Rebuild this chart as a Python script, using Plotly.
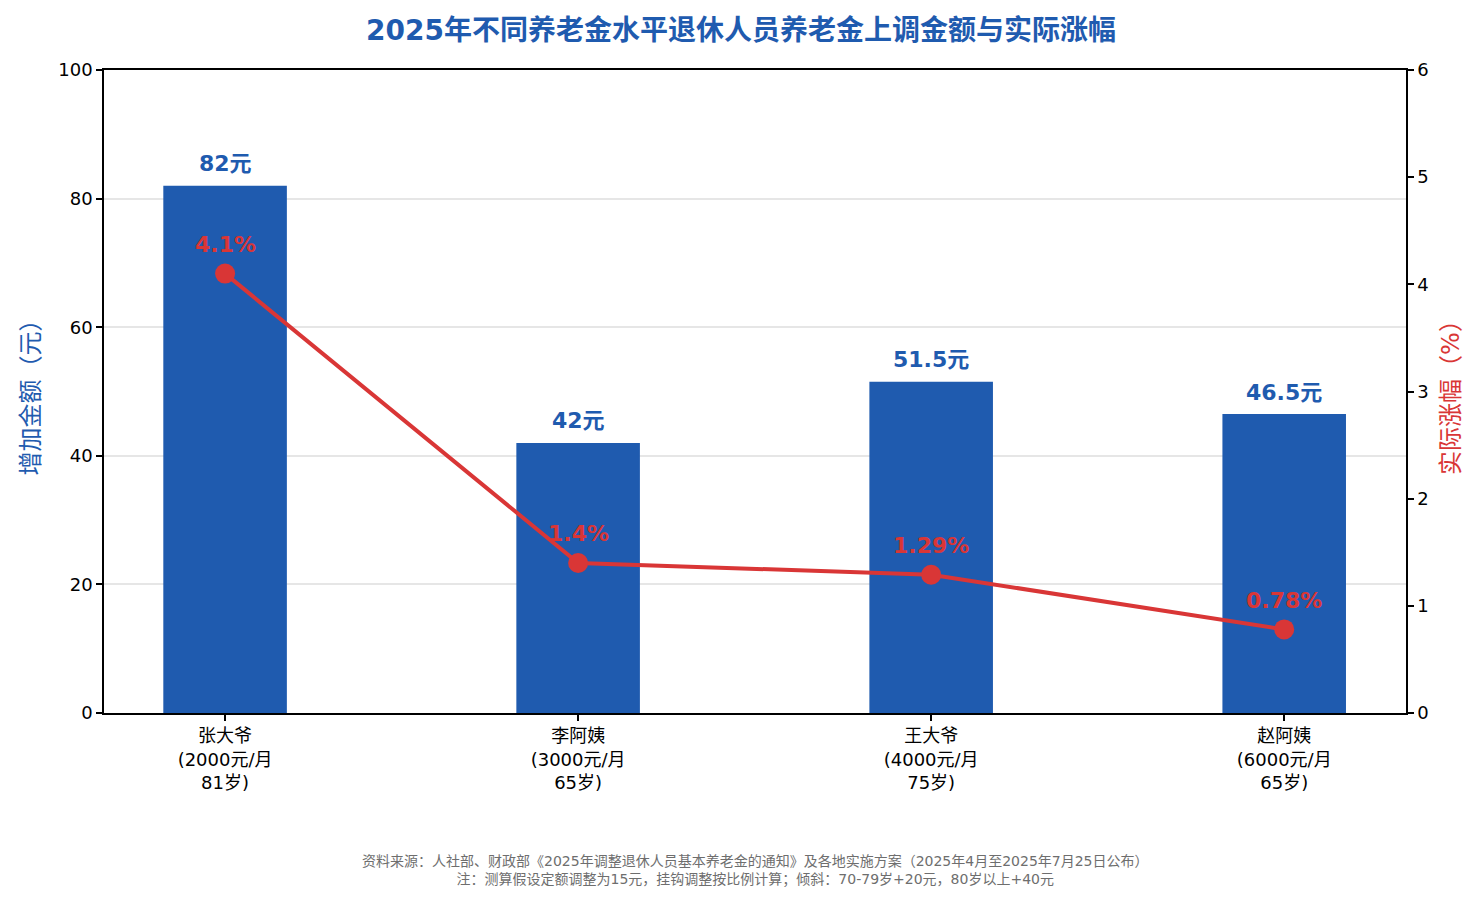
"""
2025 pension adjustment: increase amount vs. actual growth rate for four typical retirees.
"""

import plotly.graph_objects as go

# data
names = ["张大爷", "李阿姨", "王大爷", "赵阿姨"]
pensions = [2000, 3000, 4000, 6000]   # 元/月
ages = [81, 65, 75, 65]
increase = [82, 42, 51.5, 46.5]      # 增加金额（元）
growth = [4.1, 1.4, 1.29, 0.78]      # 实际涨幅（%）

categories = [f"{n}<br>({p}元/月<br>{a}岁)" for n, p, a in zip(names, pensions, ages)]
xs = list(range(len(categories)))

BLUE = "#1f5baf"
RED = "#d93636"
FONT = "DejaVu Sans, Noto Sans CJK SC, sans-serif"

fig = go.Figure()

# bars: increase amount
fig.add_trace(go.Bar(
    x=xs,
    y=increase,
    width=0.35,
    marker=dict(color=BLUE, line=dict(width=0)),
    name="增加金额",
    yaxis="y",
))

# line: growth rate
fig.add_trace(go.Scatter(
    x=xs,
    y=growth,
    mode="lines+markers",
    line=dict(color=RED, width=4),
    marker=dict(color=RED, size=20),
    name="实际涨幅",
    yaxis="y2",
))

# value labels
for i in xs:
    fig.add_annotation(
        x=i, y=increase[i], xref="x", yref="y",
        text=f"{increase[i]:g}元", showarrow=False, yshift=22,
        font=dict(family=FONT, size=22, color=BLUE, weight="bold"),
    )
    fig.add_annotation(
        x=i, y=growth[i], xref="x", yref="y2",
        text=f"{growth[i]:g}%", showarrow=False, yshift=29,
        font=dict(family=FONT, size=22, color=RED, weight="bold"),
    )

# source note
fig.add_annotation(
    x=0.5, y=-0.245, xref="paper", yref="paper", xanchor="center", yanchor="middle",
    text="资料来源：人社部、财政部《2025年调整退休人员基本养老金的通知》及各地实施方案（2025年4月至2025年7月25日公布）"
         "<br>注：测算假设定额调整为15元，挂钩调整按比例计算；倾斜：70-79岁+20元，80岁以上+40元",
    showarrow=False,
    font=dict(family=FONT, size=14, color="#6e6e6e"),
)

fig.update_layout(
    width=1482,
    height=901,
    margin=dict(l=104, r=76, t=70, b=188),
    plot_bgcolor="white",
    paper_bgcolor="white",
    showlegend=False,
    font=dict(family=FONT, size=18, color="black"),
    title=dict(
        text="2025年不同养老金水平退休人员养老金上调金额与实际涨幅",
        x=0.5, xanchor="center", y=0.967, yanchor="middle",
        font=dict(family=FONT, size=28, color=BLUE, weight="bold"),
    ),
    xaxis=dict(
        tickmode="array", tickvals=xs, ticktext=categories,
        range=[-0.343, 3.345],
        showline=True, linecolor="black", linewidth=1.5, mirror=True,
        ticks="outside", ticklen=6, tickwidth=1.5, tickcolor="black",
        showgrid=False, zeroline=False,
        tickfont=dict(size=18),
    ),
    yaxis=dict(
        range=[0, 100], dtick=20,
        title=dict(text="增加金额（元）", font=dict(size=24, color=BLUE), standoff=12),
        showline=True, linecolor="black", linewidth=1.5,
        ticks="outside", ticklen=6, tickwidth=1.5, tickcolor="black",
        showgrid=True, gridcolor="rgba(200,200,200,0.45)", gridwidth=1.5,
        zeroline=False, layer="above traces",
        tickfont=dict(size=18),
    ),
    yaxis2=dict(
        range=[0, 6], dtick=1, overlaying="y", side="right",
        title=dict(text="实际涨幅（%）", font=dict(size=24, color=RED), standoff=14),
        showline=True, linecolor="black", linewidth=1.5,
        ticks="outside", ticklen=6, tickwidth=1.5, tickcolor="black",
        showgrid=False, zeroline=False,
        tickfont=dict(size=18),
    ),
)

# drop the page's default body margin so the figure sits at the window corner
fig.write_html(
    "out.html",
    config={"displayModeBar": False},
    post_script="document.body.style.margin='0';",
)
